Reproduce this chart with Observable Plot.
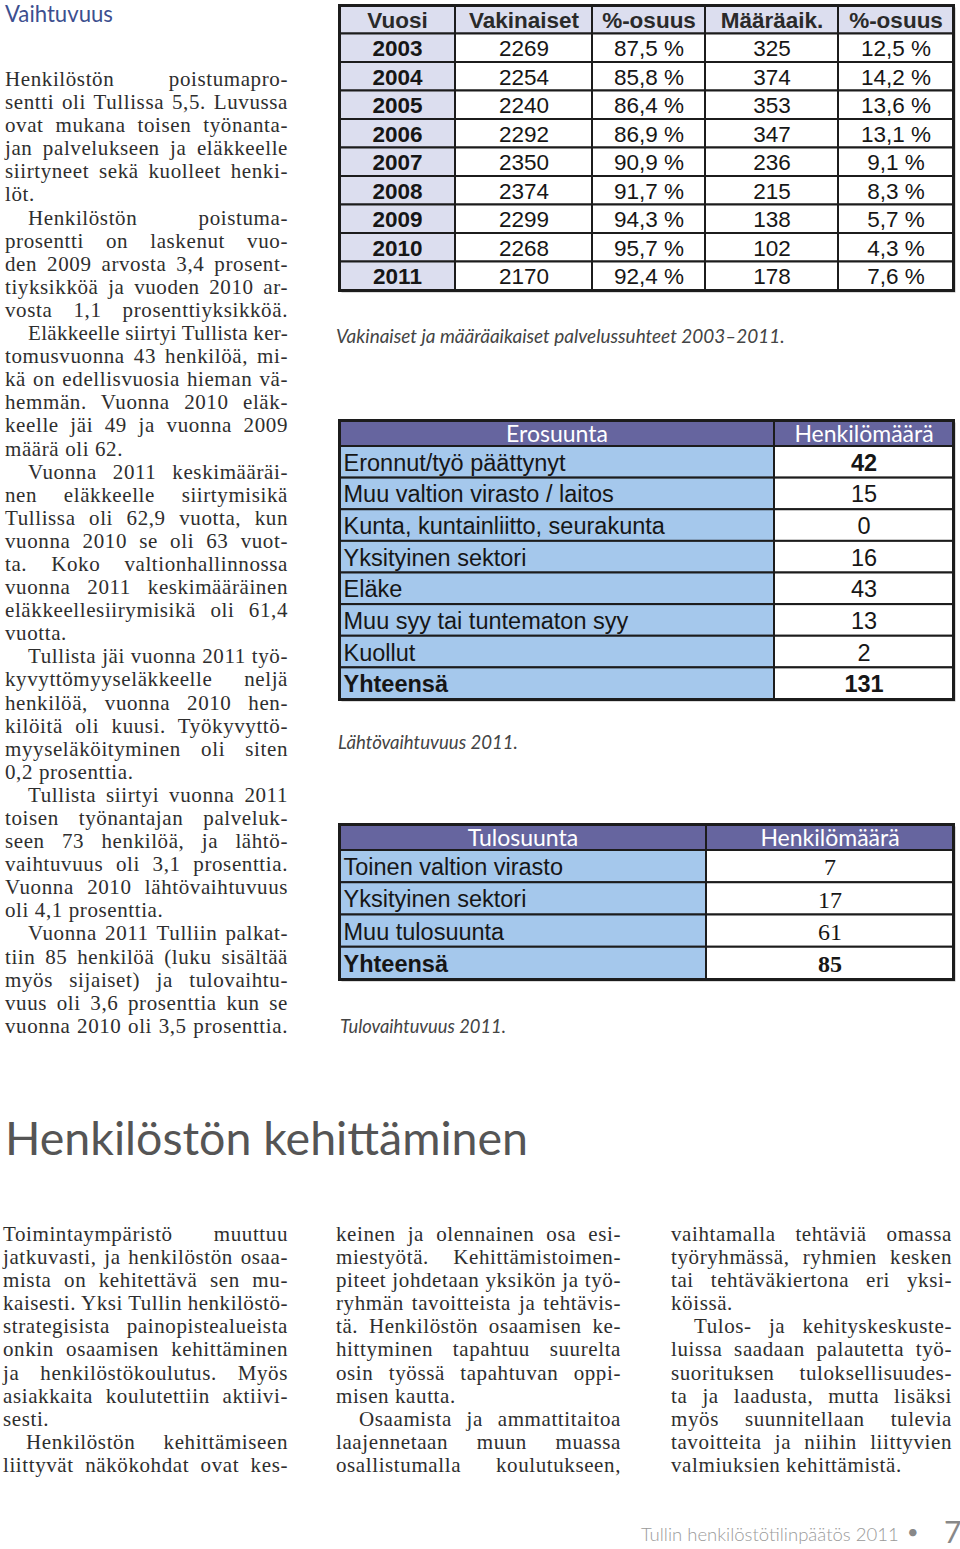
<!DOCTYPE html>
<html><head><meta charset="utf-8">
<script src="https://cdn.jsdelivr.net/npm/d3@7"></script>
<script src="https://cdn.jsdelivr.net/npm/@observablehq/plot@0.6"></script>
<style>
html,body{margin:0;padding:0;background:#fff;}
#page{position:relative;width:960px;height:1549px;overflow:hidden;background:#fff;}
.abs{position:absolute;white-space:nowrap;}
.col{position:absolute;font-family:"Liberation Serif","Times New Roman",serif;font-size:21px;color:#2e2e2e;}
.line{height:23.1px;line-height:23.1px;white-space:nowrap;}
.line span{display:inline-block;white-space:nowrap;letter-spacing:0.6px;}
.sans{font-family:Lato,"Open Sans",sans-serif;line-height:1;}
</style></head><body><div id="page"></div>
<script>
// ---------- DATA ----------
const years = [2003, 2004, 2005, 2006, 2007, 2008, 2009, 2010, 2011];
const vakinaiset = [2269, 2254, 2240, 2292, 2350, 2374, 2299, 2268, 2170];
const vakinaisetOsuus = [87.5, 85.8, 86.4, 86.9, 90.9, 91.7, 94.3, 95.7, 92.4];
const maaraaikaiset = [325, 374, 353, 347, 236, 215, 138, 102, 178];
const maaraaikaisetOsuus = [12.5, 14.2, 13.6, 13.1, 9.1, 8.3, 5.7, 4.3, 7.6];
const palvelusHeaders = ["Vuosi", "Vakinaiset", "%-osuus", "Määräaik.", "%-osuus"];

const erosuuntaHeaders = ["Erosuunta", "Henkilömäärä"];
const erosuunnat = ["Eronnut/työ päättynyt", "Muu valtion virasto / laitos", "Kunta, kuntainliitto, seurakunta", "Yksityinen sektori", "Eläke", "Muu syy tai tuntematon syy", "Kuollut"];
const erosuuntaMaarat = [42, 15, 0, 16, 43, 13, 2];
const erosuuntaYhteensa = 131;

const tulosuuntaHeaders = ["Tulosuunta", "Henkilömäärä"];
const tulosuunnat = ["Toinen valtion virasto", "Yksityinen sektori", "Muu tulosuunta"];
const tulosuuntaMaarat = [7, 17, 61];
const tulosuuntaYhteensa = 85;
const yhteensaLabel = "Yhteensä";

const captions = ["Vakinaiset ja määräaikaiset palvelussuhteet 2003–2011.", "Lähtövaihtuvuus 2011.", "Tulovaihtuvuus 2011."];
const pageTitle = "Vaihtuvuus";
const sectionTitle = "Henkilöstön kehittäminen";
const footerText = "Tullin henkilöstötilinpäätös 2011";
const pageNumber = "7";

const leftText = [
  {indent:false, end:true, lines:["Henkilöstön poistumapro-","sentti oli Tullissa 5,5. Luvussa","ovat mukana toisen työnanta-","jan palvelukseen ja eläkkeelle","siirtyneet sekä kuolleet henki-","löt."]},
  {indent:true, end:true, lines:["Henkilöstön poistuma-","prosentti on laskenut vuo-","den 2009 arvosta 3,4 prosent-","tiyksikköä ja vuoden 2010 ar-","vosta 1,1 prosenttiyksikköä."]},
  {indent:true, end:true, lines:["Eläkkeelle siirtyi Tullista ker-","tomusvuonna 43 henkilöä, mi-","kä on edellisvuosia hieman vä-","hemmän. Vuonna 2010 eläk-","keelle jäi 49 ja vuonna 2009","määrä oli 62."]},
  {indent:true, end:true, lines:["Vuonna 2011 keskimääräi-","nen eläkkeelle siirtymisikä","Tullissa oli 62,9 vuotta, kun","vuonna 2010 se oli 63 vuot-","ta. Koko valtionhallinnossa","vuonna 2011 keskimääräinen","eläkkeellesiirymisikä oli 61,4","vuotta."]},
  {indent:true, end:true, lines:["Tullista jäi vuonna 2011 työ-","kyvyttömyyseläkkeelle neljä","henkilöä, vuonna 2010 hen-","kilöitä oli kuusi. Työkyvyttö-","myyseläköityminen oli siten","0,2 prosenttia."]},
  {indent:true, end:true, lines:["Tullista siirtyi vuonna 2011","toisen työnantajan palveluk-","seen 73 henkilöä, ja lähtö-","vaihtuvuus oli 3,1 prosenttia.","Vuonna 2010 lähtövaihtuvuus","oli 4,1 prosenttia."]},
  {indent:true, end:true, lines:["Vuonna 2011 Tulliin palkat-","tiin 85 henkilöä (luku sisältää","myös sijaiset) ja tulovaihtu-","vuus oli 3,6 prosenttia kun se","vuonna 2010 oli 3,5 prosenttia."]}
];
const bottomText1 = [
  {indent:false, end:true, lines:["Toimintaympäristö muuttuu","jatkuvasti, ja henkilöstön osaa-","mista on kehitettävä sen mu-","kaisesti. Yksi Tullin henkilöstö-","strategisista painopistealueista","onkin osaamisen kehittäminen","ja henkilöstökoulutus. Myös","asiakkaita koulutettiin aktiivi-","sesti."]},
  {indent:true, end:false, lines:["Henkilöstön kehittämiseen","liittyvät näkökohdat ovat kes-"]}
];
const bottomText2 = [
  {indent:false, end:true, lines:["keinen ja olennainen osa esi-","miestyötä. Kehittämistoimen-","piteet johdetaan yksikön ja työ-","ryhmän tavoitteista ja tehtävis-","tä. Henkilöstön osaamisen ke-","hittyminen tapahtuu suurelta","osin työssä tapahtuvan oppi-","misen kautta."]},
  {indent:true, end:false, lines:["Osaamista ja ammattitaitoa","laajennetaan muun muassa","osallistumalla koulutukseen,"]}
];
const bottomText3 = [
  {indent:false, end:true, lines:["vaihtamalla tehtäviä omassa","työryhmässä, ryhmien kesken","tai tehtäväkiertona eri yksi-","köissä."]},
  {indent:true, end:true, lines:["Tulos- ja kehityskeskuste-","luissa saadaan palautetta työ-","suorituksen tuloksellisuudes-","ta ja laadusta, mutta lisäksi","myös suunnitellaan tulevia","tavoitteita ja niihin liittyvien","valmiuksien kehittämistä."]}
];

// ---------- LAYOUT ----------
const page = document.getElementById("page");
const fmtPct = v => v.toFixed(1).replace(".", ",") + " %";
const SANS = "Liberation Sans, Arial, sans-serif";
const SERIF = "Liberation Serif, Times New Roman, serif";
const GILL = "Lato, Open Sans, sans-serif";
const LAV = "#dcdeef", PURPLE = "#66659f", LBLUE = "#a5c8ec", WHITE = "#ffffff";

function table(cells, colW, rowH, styles) {
  const m = 4;
  const W = d3.sum(colW), H = d3.sum(rowH);
  const cx = [0, ...d3.cumsum(colW)], cy = [0, ...d3.cumsum(rowH)];
  const marks = [
    Plot.frame({fill: "#b8b8b8", dx: 2, dy: 2}),
    Plot.rect(cells, {x1: d => cx[d.c], x2: d => cx[d.c + 1], y1: d => cy[d.r], y2: d => cy[d.r + 1], fill: d => d.fill, stroke: "#1c1c1c", strokeWidth: 2}),
    Plot.frame({stroke: "#1c1c1c", strokeWidth: 3})
  ];
  for (const [key, st] of Object.entries(styles)) {
    const sub = cells.filter(d => d.s === key);
    if (!sub.length) continue;
    marks.push(Plot.text(sub, {
      x: d => st.anchor === "start" ? cx[d.c] : (cx[d.c] + cx[d.c + 1]) / 2,
      y: d => (cy[d.r] + cy[d.r + 1]) / 2,
      text: d => d.t,
      textAnchor: st.anchor || "middle",
      dx: st.anchor === "start" ? 4 : 0,
      dy: st.dy || 1,
      fill: st.color || "#161616",
      fontFamily: st.font, fontSize: st.size, fontWeight: st.weight || "normal"
    }));
  }
  const svg = Plot.plot({
    width: W + 2 * m, height: H + 2 * m, margin: m,
    x: {domain: [0, W], axis: null}, y: {domain: [0, H], reverse: true, axis: null},
    color: {type: "identity"}, style: {background: "transparent", overflow: "visible"},
    marks
  });
  return {svg, m};
}
function place(t, left, top) {
  t.svg.style.position = "absolute";
  t.svg.style.left = (left - t.m) + "px";
  t.svg.style.top = (top - t.m) + "px";
  page.appendChild(t.svg);
}

// Table 1
const t1cells = [];
palvelusHeaders.forEach((h, c) => t1cells.push({r: 0, c, t: h, fill: LAV, s: "hdr"}));
years.forEach((y, i) => {
  const r = i + 1;
  t1cells.push({r, c: 0, t: String(y), fill: LAV, s: "yr"});
  t1cells.push({r, c: 1, t: String(vakinaiset[i]), fill: WHITE, s: "val"});
  t1cells.push({r, c: 2, t: fmtPct(vakinaisetOsuus[i]), fill: WHITE, s: "val"});
  t1cells.push({r, c: 3, t: String(maaraaikaiset[i]), fill: WHITE, s: "val"});
  t1cells.push({r, c: 4, t: fmtPct(maaraaikaisetOsuus[i]), fill: WHITE, s: "val"});
});
place(table(t1cells, [116, 137, 113, 133, 115], d3.range(10).map(() => 28.5), {
  hdr: {font: SANS, size: 22.5, weight: "bold", color: "#2a2a2a"},
  yr: {font: SANS, size: 22.5, weight: "bold"},
  val: {font: SANS, size: 22.5}
}), 339, 5);

// Table 2
const t2cells = [];
erosuuntaHeaders.forEach((h, c) => t2cells.push({r: 0, c, t: h, fill: PURPLE, s: "hdr"}));
erosuunnat.forEach((e, i) => {
  t2cells.push({r: i + 1, c: 0, t: e, fill: LBLUE, s: "lbl"});
  t2cells.push({r: i + 1, c: 1, t: String(erosuuntaMaarat[i]), fill: WHITE, s: i === 0 ? "valB" : "val"});
});
t2cells.push({r: erosuunnat.length + 1, c: 0, t: yhteensaLabel, fill: LBLUE, s: "lblB"});
t2cells.push({r: erosuunnat.length + 1, c: 1, t: String(erosuuntaYhteensa), fill: WHITE, s: "valB"});
place(table(t2cells, [435, 179], [26, ...d3.range(8).map(() => 31.625)], {
  hdr: {font: GILL, size: 23, color: "#ffffff"},
  lbl: {font: SANS, size: 23.5, anchor: "start"},
  lblB: {font: SANS, size: 23.5, anchor: "start", weight: "bold"},
  val: {font: SANS, size: 23.5},
  valB: {font: SANS, size: 23.5, weight: "bold"}
}), 339, 420);

// Table 3
const t3cells = [];
tulosuuntaHeaders.forEach((h, c) => t3cells.push({r: 0, c, t: h, fill: PURPLE, s: "hdr"}));
tulosuunnat.forEach((e, i) => {
  t3cells.push({r: i + 1, c: 0, t: e, fill: LBLUE, s: "lbl"});
  t3cells.push({r: i + 1, c: 1, t: String(tulosuuntaMaarat[i]), fill: WHITE, s: "val"});
});
t3cells.push({r: tulosuunnat.length + 1, c: 0, t: yhteensaLabel, fill: LBLUE, s: "lblB"});
t3cells.push({r: tulosuunnat.length + 1, c: 1, t: String(tulosuuntaYhteensa), fill: WHITE, s: "valB"});
place(table(t3cells, [367, 247], [26, ...d3.range(4).map(() => 32.25)], {
  hdr: {font: GILL, size: 23, color: "#ffffff"},
  lbl: {font: SANS, size: 23.5, anchor: "start"},
  lblB: {font: SANS, size: 23.5, anchor: "start", weight: "bold"},
  val: {font: SERIF, size: 24},
  valB: {font: SERIF, size: 24, weight: "bold"}
}), 339, 824);

// ---------- Text ----------
function label(text, x, cy, size, css, targetW) {
  const el = document.createElement("div");
  el.className = "abs sans";
  el.textContent = text;
  el.style.left = x + "px";
  el.style.fontSize = size + "px";
  Object.assign(el.style, css || {});
  page.appendChild(el);
  if (targetW) {
    const w = el.getBoundingClientRect().width;
    size = size * targetW / w;
    el.style.fontSize = size + "px";
  }
  el.style.top = (cy - size * 0.55) + "px";
  return el;
}
label(pageTitle, 5, 15, 22, {color: "#3d4f8f"}, 108);
label(captions[0], 336, 337, 18, {color: "#444", fontStyle: "italic"}, 449);
label(captions[1], 338, 743, 18, {color: "#444", fontStyle: "italic"}, 180);
label(captions[2], 340, 1027, 18, {color: "#444", fontStyle: "italic"}, 166);
label(sectionTitle, 5, 1140, 46, {color: "#555"}, 523);
label(footerText, 641, 1535, 20, {color: "#9a9a9a", fontWeight: "300"}, 258);
label("•", 907, 1532, 20, {color: "#888"});
label(pageNumber, 944, 1532, 30, {color: "#888"});

function column(paras, left, top, width) {
  const col = document.createElement("div");
  col.className = "col";
  col.style.left = left + "px";
  col.style.top = top + "px";
  col.style.width = width + "px";
  page.appendChild(col);
  const todo = [];
  paras.forEach(p => p.lines.forEach((t, i) => {
    const line = document.createElement("div");
    line.className = "line";
    const sp = document.createElement("span");
    sp.textContent = t;
    const ind = (p.indent && i === 0) ? 23 : 0;
    sp.style.marginLeft = ind + "px";
    line.appendChild(sp);
    col.appendChild(line);
    todo.push({sp, t, target: width - ind, last: p.end && i === p.lines.length - 1});
  }));
  todo.forEach(({sp, t, target, last}) => {
    const w = sp.getBoundingClientRect().width;
    const n = (t.match(/ /g) || []).length;
    if (w > target) {
      sp.style.letterSpacing = (0.6 + (target - w) / t.length) + "px";
    } else if (n > 0 && (!last || w > target * 0.88)) {
      sp.style.wordSpacing = ((target - w) / n) + "px";
    }
  });
}
column(leftText, 5, 68, 283);
column(bottomText1, 3, 1223, 285);
column(bottomText2, 336, 1223, 285);
column(bottomText3, 671, 1223, 281);
</script></body></html>
